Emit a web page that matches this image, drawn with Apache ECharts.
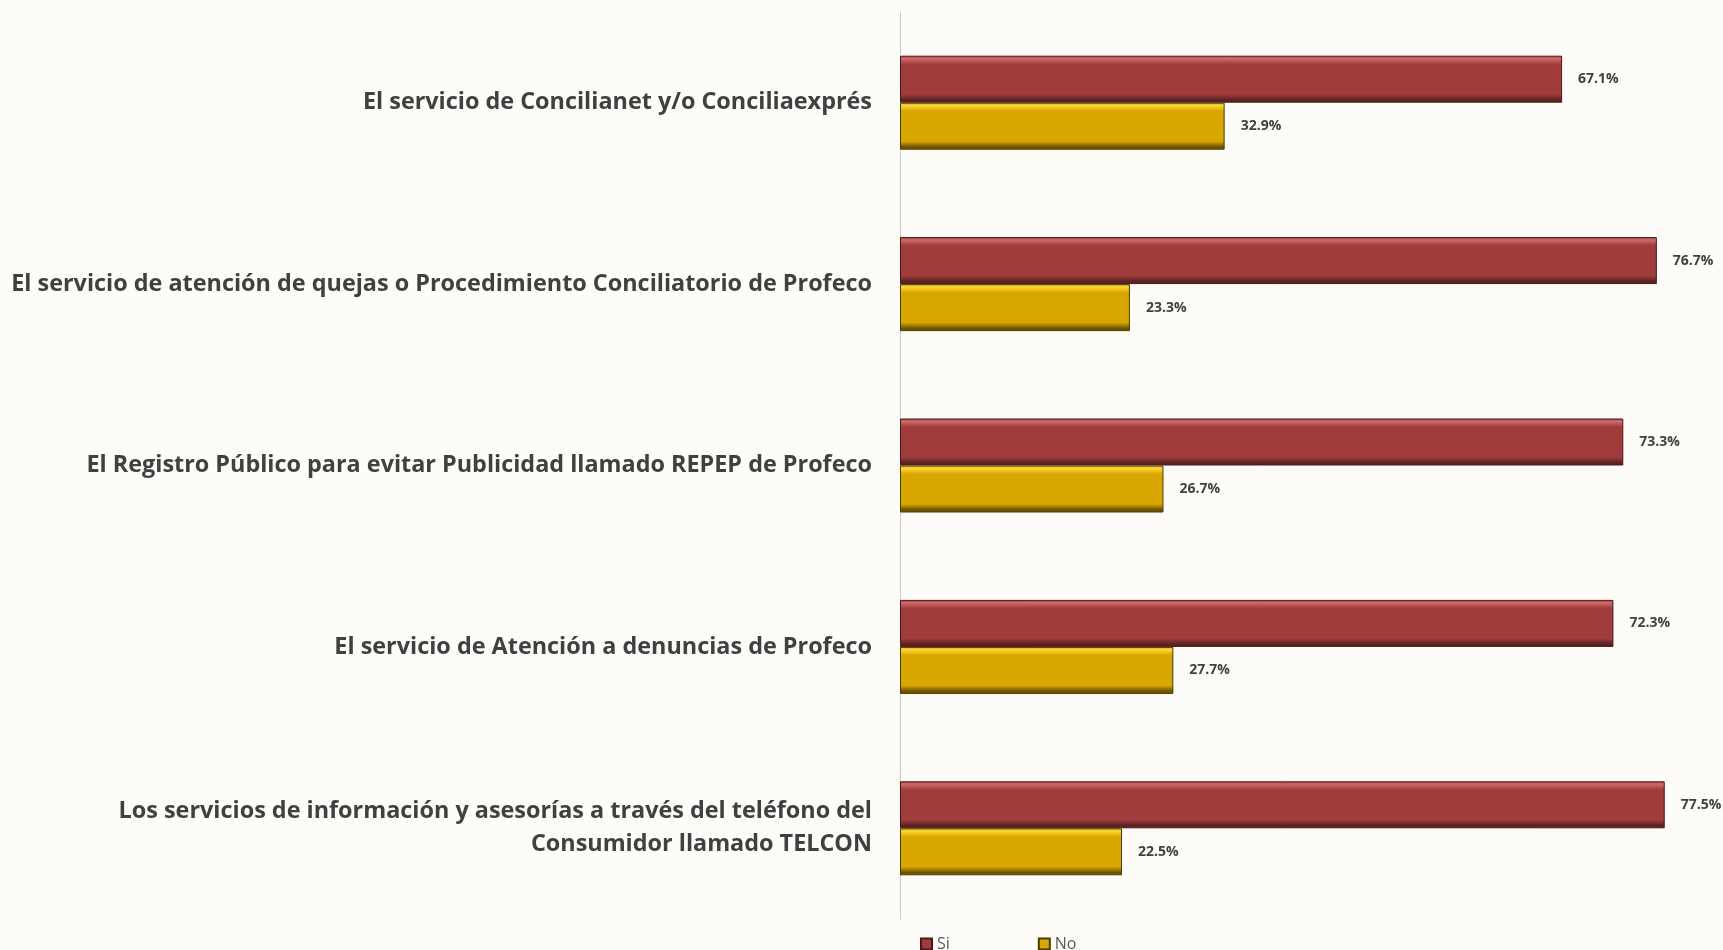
<!DOCTYPE html>
<html>
<head>
<meta charset="utf-8">
<script src="https://cdn.jsdelivr.net/npm/echarts@6/dist/echarts.min.js"></script>
<style>
  html, body { margin: 0; padding: 0; background: #fff; }
  #chart { width: 1723px; height: 950px; }
</style>
</head>
<body>
<div id="chart"></div>
<script>
// categories, top to bottom
var categories = [
  'El servicio de Concilianet y/o Conciliaexprés',
  'El servicio de atención de quejas o Procedimiento Conciliatorio de Profeco',
  'El Registro Público para evitar Publicidad llamado REPEP de Profeco',
  'El servicio de Atención a denuncias de Profeco',
  'Los servicios de información y asesorías a través del teléfono del\nConsumidor llamado TELCON'
]
var siValues = [67.1, 76.7, 73.3, 72.3, 77.5]
var noValues = [32.9, 23.3, 26.7, 27.7, 22.5]
var seriesNames = ['Si', 'No']

// bevel look: light top edge, dark bottom edge
function bevel(light, base, dark) {
  return new echarts.graphic.LinearGradient(0, 0, 0, 1, [
    { offset: 0, color: base },
    { offset: 0.06, color: light },
    { offset: 0.18, color: base },
    { offset: 0.82, color: base },
    { offset: 0.94, color: dark },
    { offset: 1, color: dark }
  ])
}

var chart = echarts.init(document.getElementById('chart'))

var labelStyle = {
  show: true,
  position: 'right',
  distance: 16,
  formatter: function (p) { return p.value.toFixed(1) + '%' },
  color: '#404040',
  fontFamily: 'Open Sans',
  fontWeight: 'bold',
  fontSize: 14
}

chart.setOption({
  backgroundColor: '#fefcf9',
  animation: false,
  grid: {
    left: 900,
    right: 4,
    top: 12,
    bottom: 31
  },
  legend: {
    data: seriesNames,
    left: 915,
    top: 931,
    itemWidth: 11,
    itemHeight: 11,
    itemGap: 88,
    icon: 'rect',
    textStyle: {
      color: '#595959',
      fontFamily: 'Open Sans',
      fontSize: 16
    }
  },
  xAxis: {
    type: 'value',
    min: 0,
    max: 83,
    show: false
  },
  yAxis: {
    type: 'category',
    data: categories,
    inverse: true,
    axisLine: {
      lineStyle: { color: '#c9c9c9', width: 1 }
    },
    axisTick: { show: false },
    axisLabel: {
      margin: 28,
      color: '#404040',
      fontFamily: 'Open Sans',
      fontWeight: 'bold',
      fontSize: 23.4,
      lineHeight: 33,
      padding: [5, 0, 0, 0],
      align: 'right'
    }
  },
  series: [
    {
      name: seriesNames[0],
      type: 'bar',
      data: siValues,
      barWidth: 47,
      barGap: '0%',
      itemStyle: {
        color: bevel('#d06b69', '#a03c3c', '#5c2222'),
        borderColor: '#4a1818',
        borderWidth: 1
      },
      label: labelStyle
    },
    {
      name: seriesNames[1],
      type: 'bar',
      data: noValues,
      barWidth: 47,
      barGap: '0%',
      itemStyle: {
        color: bevel('#ffd83a', '#d8a700', '#6e5400'),
        borderColor: '#4a3a00',
        borderWidth: 1
      },
      label: labelStyle
    }
  ]
})
</script>
</body>
</html>
